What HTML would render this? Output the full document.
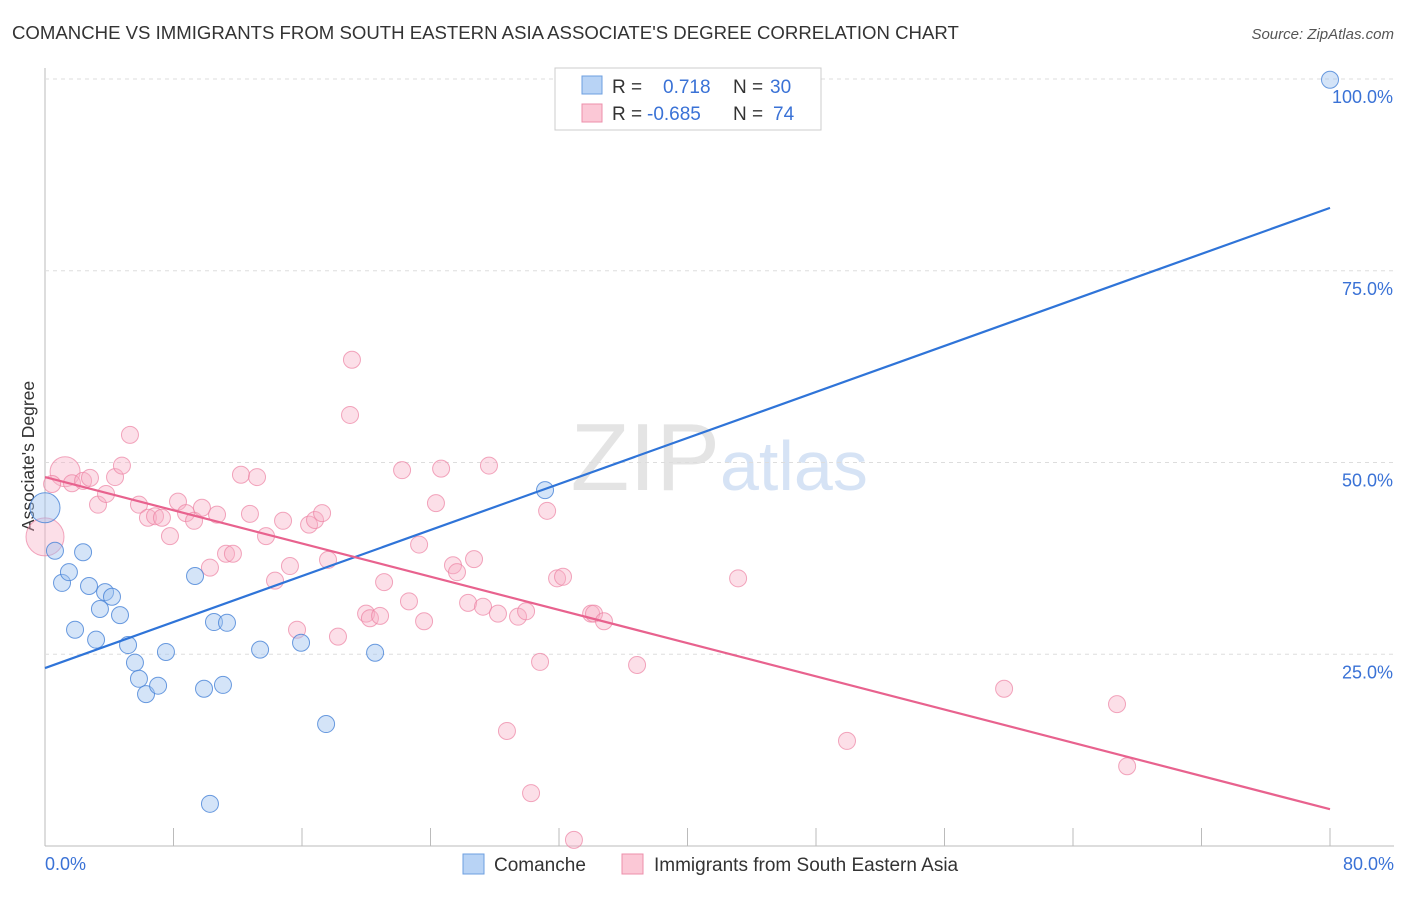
<!DOCTYPE html>
<html><head><meta charset="utf-8"><style>
body{margin:0;background:#fff;font-family:"Liberation Sans",sans-serif}
svg text{font-family:"Liberation Sans",sans-serif}
</style></head><body>
<svg id="c" width="1406" height="892">
<text x="12" y="39" font-size="18.6" fill="#333">COMANCHE VS IMMIGRANTS FROM SOUTH EASTERN ASIA ASSOCIATE'S DEGREE CORRELATION CHART</text>
<text x="1394" y="39" font-size="15" fill="#555" text-anchor="end" font-style="italic">Source: ZipAtlas.com</text>
<text x="0" y="0" transform="translate(34,456) rotate(-90)" font-size="17.5" fill="#333" text-anchor="middle">Associate's Degree</text>
<text x="720" y="490" font-size="96" fill="#e4e4e4" text-anchor="end" font-family="Liberation Serif">ZIP</text>
<text x="720" y="490" font-size="70" fill="#d6e3f5">atlas</text>
<g id="grid"></g><g id="pts"></g><g id="lines"></g>
<g>
<rect x="555" y="68" width="266" height="62" fill="#fff" stroke="#ccc"/>
<rect x="582" y="76" width="20" height="18" fill="#b8d3f5" stroke="#6d9fe0"/>
<rect x="582" y="104" width="20" height="18" fill="#fbc8d6" stroke="#ec8fab"/>
<text x="612" y="93" font-size="19" fill="#333">R =</text>
<text x="663" y="93" font-size="19" fill="#3a72d6">0.718</text>
<text x="733" y="93" font-size="19" fill="#333">N =</text>
<text x="770" y="93" font-size="19" fill="#3a72d6">30</text>
<text x="612" y="120" font-size="19" fill="#333">R =</text>
<text x="647" y="120" font-size="19" fill="#3a72d6">-0.685</text>
<text x="733" y="120" font-size="19" fill="#333">N =</text>
<text x="773" y="120" font-size="19" fill="#3a72d6">74</text>
</g>
<g>
<rect x="463" y="854" width="21" height="20" fill="#b8d3f5" stroke="#6d9fe0"/>
<text x="494" y="871" font-size="19" fill="#333">Comanche</text>
<rect x="622" y="854" width="21" height="20" fill="#fbc8d6" stroke="#ec8fab"/>
<text x="654" y="871" font-size="19" fill="#333">Immigrants from South Eastern Asia</text>
</g>
</svg>
<script>
const NS="http://www.w3.org/2000/svg";
const xTicks=[0,8,16,24,32,40,48,56,64,72,80];
const yTicks=[25,50,75,100];
const blueX=[0,0.62,1.06,1.49,1.87,2.37,2.74,3.18,3.42,3.74,4.17,4.67,5.17,5.6,5.85,6.29,7.04,7.53,9.34,9.9,10.27,10.52,11.08,11.33,13.39,15.94,17.5,20.55,31.13,80];
const blueY=[44.1,38.5,34.3,35.7,28.2,38.3,33.9,26.9,30.9,33.1,32.5,30.1,26.2,23.9,21.8,19.8,20.9,25.3,35.2,20.5,5.5,29.2,21,29.1,25.6,26.5,15.9,25.2,46.4,99.9];
const pinkX=[0,1.25,0.44,1.68,2.37,2.8,3.3,3.8,4.36,4.79,5.29,5.85,6.41,6.85,7.28,7.78,8.28,8.78,9.28,9.77,10.27,10.71,11.27,11.7,12.2,12.76,13.2,13.76,14.32,14.82,15.25,15.69,16.44,16.81,17.25,17.62,18.24,18.99,19.11,19.99,20.23,20.86,21.11,22.23,22.66,23.29,23.6,24.34,24.66,25.4,25.65,26.34,26.71,27.27,27.64,28.2,28.76,29.45,29.95,30.26,30.82,31.26,31.88,32.25,32.93,34,34.18,34.8,36.86,43.15,49.93,59.71,66.74,67.37];
const pinkY=[40.3,48.8,47.2,47.3,47.6,48,44.5,45.9,48.1,49.6,53.6,44.5,42.8,43,42.8,40.4,44.9,43.4,42.4,44.1,36.3,43.2,38.1,38.1,48.4,43.3,48.1,40.4,34.6,42.4,36.5,28.2,41.9,42.5,43.4,37.3,27.3,56.2,63.4,30.3,29.7,30,34.4,49,31.9,39.3,29.3,44.7,49.2,36.6,35.7,31.7,37.4,31.2,49.6,30.3,15,29.9,30.6,6.9,24,43.7,34.9,35.1,0.8,30.3,30.3,29.3,23.6,34.9,13.7,20.5,18.5,10.4];
const blueLine=[[0,23.2],[80,83.2]];
const pinkLine=[[0,48.1],[80,4.8]];
const sx=v=>45+v/80*1285, sy=v=>846-v/100*767;
function mk(t,a,p){const e=document.createElementNS(NS,t);for(const k in a)e.setAttribute(k,a[k]);p.appendChild(e);return e;}
const g=document.getElementById('grid'),P=document.getElementById('pts'),L=document.getElementById('lines');
let ax=mk('line',{x1:45,y1:846,x2:1394,y2:846,stroke:'#bbb'},g);


let ay=mk('line',{x1:45,y1:68,x2:45,y2:846,stroke:'#bbb'},g);


xTicks.forEach(v=>{let t=mk('line',{x1:sx(v),y1:828,x2:sx(v),y2:846,stroke:'#bbb'},g);

});
yTicks.forEach(v=>{let l=mk('line',{x1:45,y1:sy(v),x2:1394,y2:sy(v),stroke:'#ddd','stroke-dasharray':'4,4'},g);


let t=mk('text',{x:1393,y:sy(v)+24,'font-size':18,fill:'#3a72d6','text-anchor':'end'},g);t.textContent=v.toFixed(1)+'%';

});
[[0,'0.0%',45,'start'],[80,'80.0%',1394,'end']].forEach(d=>{let t=mk('text',{x:d[2],y:870,'font-size':18,fill:'#3a72d6','text-anchor':d[3]},g);t.textContent=d[1];

});
function big(x,y){return (x<0.1)||(x===1.25&&y===48.8);}
pinkX.forEach((x,i)=>{let c=mk('circle',{cx:sx(x),cy:sy(pinkY[i]),r:big(x,pinkY[i])?(x===0?19:15):8.5,fill:'rgba(248,175,198,0.4)',stroke:'rgba(236,130,162,0.7)','stroke-width':1},P);

});
blueX.forEach((x,i)=>{let c=mk('circle',{cx:sx(x),cy:sy(blueY[i]),r:i===0?15:8.5,fill:'rgba(160,196,240,0.45)',stroke:'rgba(70,130,215,0.8)','stroke-width':1},P);

});
let bl=mk('line',{x1:sx(blueLine[0][0]),y1:sy(blueLine[0][1]),x2:sx(blueLine[1][0]),y2:sy(blueLine[1][1]),stroke:'#2f74d8','stroke-width':2.2},L);


let pl=mk('line',{x1:sx(pinkLine[0][0]),y1:sy(pinkLine[0][1]),x2:sx(pinkLine[1][0]),y2:sy(pinkLine[1][1]),stroke:'#e8628e','stroke-width':2.2},L);


</script>
</body></html>
